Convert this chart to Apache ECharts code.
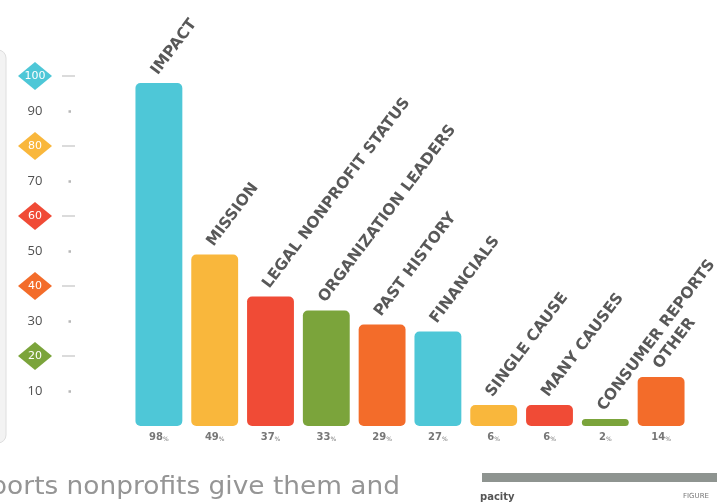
<!DOCTYPE html>
<html>
<head>
<meta charset="utf-8">
<script src="https://cdn.jsdelivr.net/npm/echarts@6/dist/echarts.min.js"></script>
<style>
html,body{margin:0;padding:0;background:#fff;}
#c{width:717px;height:503px;}
</style>
</head>
<body>
<div id="c"></div>
<script>
const categories = ['IMPACT','MISSION','LEGAL NONPROFIT STATUS','ORGANIZATION LEADERS','PAST HISTORY','FINANCIALS','SINGLE CAUSE','MANY CAUSES','CONSUMER REPORTS','OTHER'];
const values = [98,49,37,33,29,27,6,6,2,14];
const diamondTicks = [100,80,60,40,20];
const plainTicks = [90,70,50,30,10];

const palette = ['#4ec7d7','#f9b73c','#f04b36','#7ba43b','#f36c2a'];
const diamondColors = ['#4ec7d7','#f9b73c','#f04b36','#f36c2a','#7ba43b'];

const chart = echarts.init(document.getElementById('c'), null, {renderer:'canvas'});
const GT = 76, GB = 77;
chart.setOption({
  backgroundColor:'#ffffff',
  animation:false,
  grid:[
    {left:131, right:28, top:GT, bottom:GB},
    {left:18, width:34, top:GT, bottom:GB}
  ],
  xAxis:[
    {gridIndex:0, type:'category', data:categories,
     axisLine:{show:false}, axisTick:{show:false},
     axisLabel:{margin:6, interval:0,
       formatter:(v,i)=>'{n|'+values[i]+'}{p|%}',
       rich:{n:{fontSize:10,color:'#777',fontFamily:'DejaVu Sans',fontWeight:'bold'},
             p:{fontSize:6,color:'#777',fontFamily:'DejaVu Sans',verticalAlign:'bottom'}}}},
    {gridIndex:1, type:'value', min:-1, max:1, show:false}
  ],
  yAxis:[
    {gridIndex:0, type:'value', min:0, max:100, interval:20, position:'left', offset:56,
     axisLine:{show:false}, splitLine:{show:false},
     axisTick:{show:true, customValues:diamondTicks, length:13, lineStyle:{color:'#d0d0d0', width:1.5}},
     axisLabel:{show:false}},
    {gridIndex:0, type:'value', min:0, max:100, interval:10, position:'left', offset:60,
     axisLine:{show:false}, splitLine:{show:false},
     axisTick:{show:true, customValues:plainTicks, length:2.5, lineStyle:{color:'#b8b8b8', width:2.5}},
     axisLabel:{show:true, customValues:plainTicks, margin:36, align:'center',
       color:'#505050', fontSize:13, fontFamily:'Open Sans'}},
    {gridIndex:1, type:'value', min:0, max:100, show:false}
  ],
  series:[
    {type:'bar', xAxisIndex:0, yAxisIndex:0,
     barCategoryGap:'16%',
     data:values.map((v,i)=>({value:v, itemStyle:{color:palette[i%palette.length]}})),
     itemStyle:{borderRadius:5},
     label:{show:true, position:'top', distance:4, rotate:53, align:'left', verticalAlign:'middle',
       offset:[2,-7],
       formatter:(p)=>categories[p.dataIndex],
       color:'#585858', fontSize:15.5, fontWeight:'bold', fontFamily:'DejaVu Sans'}},
    {type:'scatter', xAxisIndex:1, yAxisIndex:2, symbol:'diamond', symbolSize:[34,28],
     itemStyle:{opacity:1},
     data:diamondTicks.map((v,i)=>({value:[0,v], itemStyle:{color:diamondColors[i], opacity:1}})),
     label:{show:true, position:'inside', formatter:(p)=>String(p.value[1]),
       color:'#ffffff', fontSize:11, fontFamily:'DejaVu Sans'}}
  ],
  graphic:[
    {type:'rect', shape:{x:-30, y:50, width:36, height:393, r:8},
     style:{fill:'#f3f3f3', stroke:'#dedede', lineWidth:1}, z:-10},
    {type:'text', x:400, y:500, originX:0, originY:0, scaleX:1.1,
     style:{text:'supports nonprofits give them and', textAlign:'right', textVerticalAlign:'bottom',
      font:'24px "DejaVu Sans"', fill:'#959595'}},
    {type:'rect', shape:{x:482, y:473, width:240, height:9}, style:{fill:'#8e9490'}},
    {type:'text', x:480, y:497, style:{text:'pacity', textVerticalAlign:'middle', font:'bold 10px "DejaVu Sans"', fill:'#555'}},
    {type:'text', x:683, y:496, style:{text:'FIGURE', textVerticalAlign:'middle', font:'7px "DejaVu Sans"', fill:'#777'}}
  ]
});
</script>
</body>
</html>
